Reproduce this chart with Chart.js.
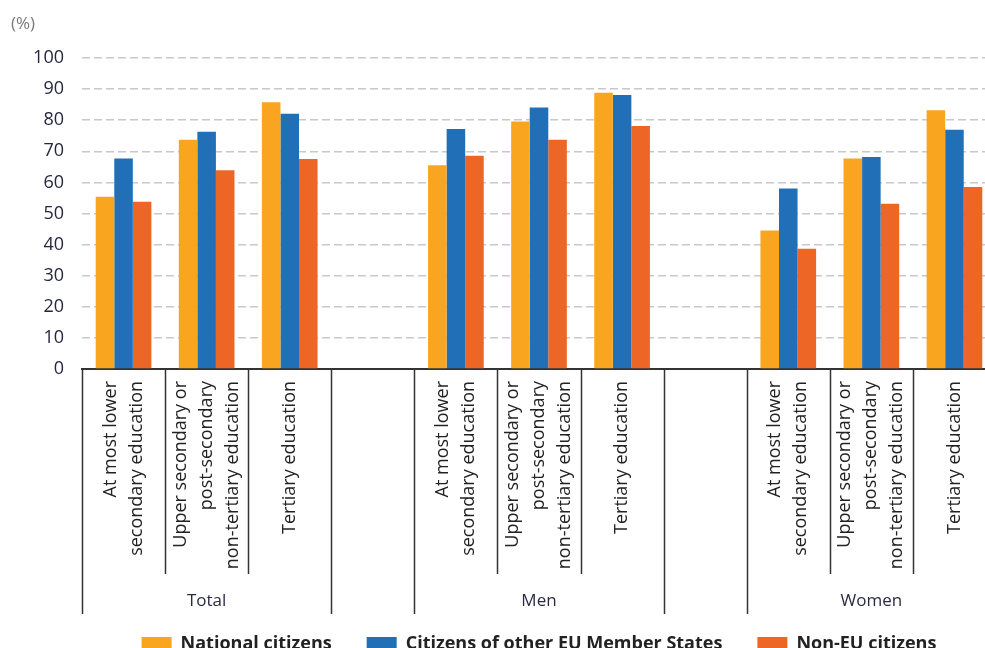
<!DOCTYPE html>
<html>
<head>
<meta charset="utf-8">
<script src="https://cdn.jsdelivr.net/npm/chart.js@4.4.0/dist/chart.umd.min.js"></script>
<style>
  html, body { margin: 0; padding: 0; background: #fff; overflow: hidden; }
  #wrap { position: relative; width: 1000px; height: 663px; }
</style>
</head>
<body>
<div id="wrap"><canvas id="chart"></canvas></div>
<script>
// Category labels, one per slot; empty slots separate the groups
const categoryLabels = [
    ['At most lower', 'secondary education'],
    ['Upper secondary or', 'post-secondary', 'non-tertiary education'],
    ['Tertiary education'],
    [],
    ['At most lower', 'secondary education'],
    ['Upper secondary or', 'post-secondary', 'non-tertiary education'],
    ['Tertiary education'],
    [],
    ['At most lower', 'secondary education'],
    ['Upper secondary or', 'post-secondary', 'non-tertiary education'],
    ['Tertiary education']
];
const groupLabels = ['Total', 'Men', 'Women'];
const groupSlots = [[0, 2], [4, 6], [8, 10]];

// Values (%)
const nationalCitizens = [55.4, 73.7, 85.8, null, 65.5, 79.6, 88.8, null, 44.5, 67.7, 83.2];
const otherEuCitizens  = [67.7, 76.3, 82.1, null, 77.2, 84.1, 88.1, null, 58.0, 68.2, 76.9];
const nonEuCitizens    = [53.8, 63.9, 67.5, null, 68.6, 73.7, 78.1, null, 38.7, 53.1, 58.5];

const seriesNames = ['National citizens', 'Citizens of other EU Member States', 'Non-EU citizens'];
const seriesColors = ['#FAA51F', '#2170B7', '#EE6626'];

const textFont = '"Open Sans", "DejaVu Sans", sans-serif';

// Draws the rotated category labels, separator ticks, group names and the unit
const annotations = {
    id: 'annotations',
    afterDraw(chart) {
        const { ctx, chartArea } = chart;
        const x = chart.scales.x;
        const n = categoryLabels.length;
        const half = (x.getPixelForValue(1) - x.getPixelForValue(0)) / 2;
        const base = chartArea.bottom;
        const isEmpty = (i) => i < 0 || i >= n || categoryLabels[i].length === 0;

        ctx.save();

        // separator lines between slots
        ctx.strokeStyle = '#333';
        ctx.lineWidth = 1.5;
        for (let k = 0; k <= n; k++) {
            const px = Math.round(x.getPixelForValue(k) - half) + 0.5;
            const long = isEmpty(k - 1) || isEmpty(k);
            ctx.beginPath();
            ctx.moveTo(px, base);
            ctx.lineTo(px, base + (long ? 245 : 205));
            ctx.stroke();
        }

        // rotated category labels
        ctx.fillStyle = '#222';
        ctx.font = '18px ' + textFont;
        ctx.textAlign = 'right';
        ctx.textBaseline = 'middle';
        const lineGap = 26;
        categoryLabels.forEach((lines, i) => {
            if (!lines.length) return;
            ctx.save();
            ctx.translate(x.getPixelForValue(i), base + 12);
            ctx.rotate(-Math.PI / 2);
            lines.forEach((line, j) => {
                ctx.fillText(line, 0, (j - (lines.length - 1) / 2) * lineGap);
            });
            ctx.restore();
        });

        // group names
        ctx.fillStyle = '#2a2a45';
        ctx.font = '17px ' + textFont;
        ctx.textAlign = 'center';
        groupLabels.forEach((label, g) => {
            const [a, b] = groupSlots[g];
            const left = x.getPixelForValue(a) - half;
            const right = x.getPixelForValue(b) + half;
            ctx.fillText(label, (left + right) / 2, base + 232);
        });

        // unit
        ctx.fillStyle = '#7a7a7a';
        ctx.font = '17px ' + textFont;
        ctx.textAlign = 'left';
        ctx.fillText('(%)', 11, 24);

        ctx.restore();
    }
};

const ctx = document.getElementById('chart').getContext('2d');
new Chart(ctx, {
    type: 'bar',
    data: {
        labels: categoryLabels,
        datasets: [nationalCitizens, otherEuCitizens, nonEuCitizens].map((values, i) => ({
            label: seriesNames[i],
            data: values,
            backgroundColor: seriesColors[i],
            borderWidth: 0,
            categoryPercentage: 0.67,
            barPercentage: 1.0
        }))
    },
    options: {
        responsive: true,
        maintainAspectRatio: false,
        animation: false,
        layout: {
            padding: { top: 58, right: 4, left: 0, bottom: 0 }
        },
        plugins: {
            legend: {
                position: 'bottom',
                fullSize: false,
                labels: {
                    boxWidth: 30,
                    boxHeight: 14,
                    padding: 35,
                    color: '#222',
                    font: { family: textFont, size: 18, weight: 'bold' }
                }
            },
            tooltip: { enabled: false }
        },
        scales: {
            x: {
                grid: { display: false },
                border: { display: true, color: '#333', width: 2 },
                ticks: { display: false },
                afterFit: (scale) => { scale.height = 231; }
            },
            y: {
                min: 0,
                max: 100,
                ticks: {
                    stepSize: 10,
                    padding: 18,
                    color: '#262640',
                    font: { family: textFont, size: 18 }
                },
                grid: {
                    color: '#c8c8c8',
                    lineWidth: 1.5,
                    drawTicks: false
                },
                border: { display: false, dash: [8, 4] },
                afterFit: (scale) => { scale.width = 82; }
            }
        }
    },
    plugins: [annotations]
});
</script>
</body>
</html>
